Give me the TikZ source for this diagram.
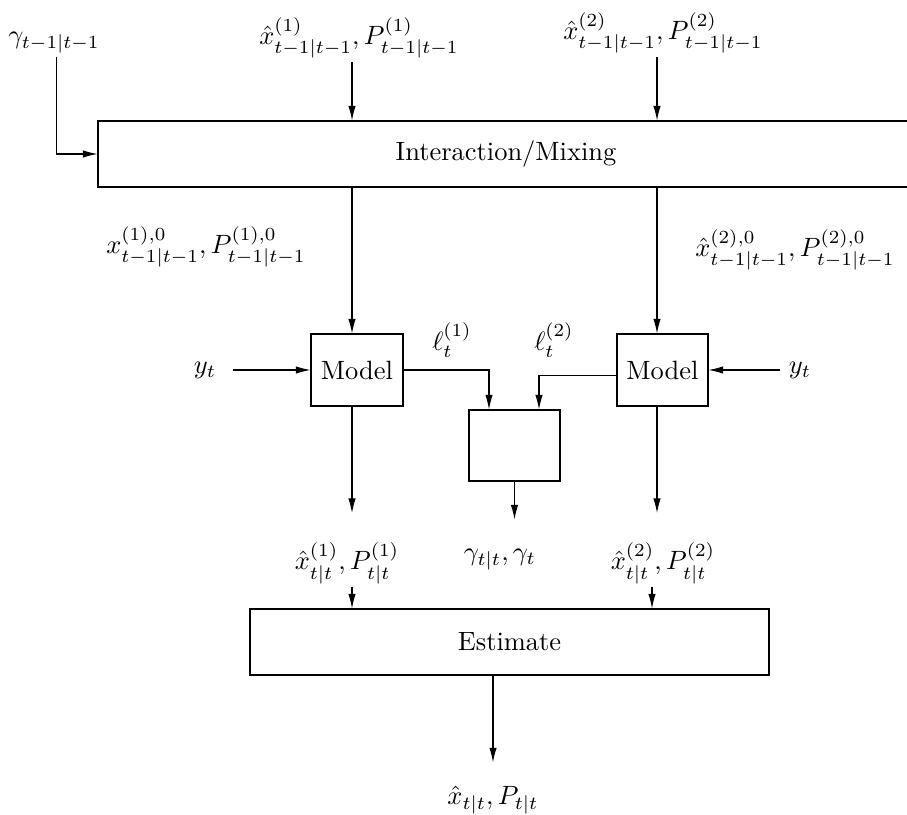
\documentclass[tikz,border=0pt]{standalone}
\usetikzlibrary{arrows.meta}
\newcommand{\un}{0.378pt}
\tikzset{
  arr/.style={-{Latex[length=5.5pt,width=2.8pt]}},
  blk/.style n args={2}{draw, minimum width=#1*\un, minimum height=#2*\un},
  lbl/.style={inner sep=1pt}
}
\begin{document}
\begin{tikzpicture}[x=\un,y=-\un]
\useasboundingbox (0,0) rectangle (907,815);
\clip (0,0) rectangle (907,815);
\coordinate (c1) at (352,0);
\coordinate (c2) at (657,0);
\coordinate (c3) at (652,0);

\node[lbl] (gam) at (54,43) {$\gamma_{t-1|t-1}$};
\node[lbl] (xin1) at (359,38) {$\hat{x}^{(1)}_{t-1|t-1}, P^{(1)}_{t-1|t-1}$};
\node[lbl] (xin2) at (663,33) {$\hat{x}^{(2)}_{t-1|t-1}, P^{(2)}_{t-1|t-1}$};
\node[blk={816}{66}] (mix) at (506,154) {Interaction/Mixing};

\node (xo1) at (206,247) {$x^{(1),0}_{t-1|t-1}, P^{(1),0}_{t-1|t-1}$};
\node (xo2) at (795,250) {$\hat{x}^{(2),0}_{t-1|t-1}, P^{(2),0}_{t-1|t-1}$};

\node[blk={92}{72}] (mdl1) at (357,370) {Model};
\node[blk={91}{72}] (mdl2) at (662.5,370) {Model};
\node[blk={91}{71}] (lik) at (514.5,445.5) {};
\node (y1) at (205,370) {$y_t$};
\node (y2) at (800,370) {$y_t$};
\node (l1) at (452,340) {$\ell^{(1)}_t$};
\node (l2) at (554,340) {$\ell^{(2)}_t$};

\node[lbl] (xe1) at (347,563) {$\hat{x}^{(1)}_{t|t}, P^{(1)}_{t|t}$};
\node[lbl] (gout) at (500,560) {$\gamma_{t|t}, \gamma_t$};
\node[lbl] (xe2) at (663,563) {$\hat{x}^{(2)}_{t|t}, P^{(2)}_{t|t}$};
\node[blk={519}{66}] (est) at (509.5,642) {Estimate};
\node[lbl] (xout) at (493,800) {$\hat{x}_{t|t}, P_{t|t}$};

\draw[arr] ([xshift=1pt]gam.south) |- (mix.west);
\draw[arr] (xin1.south -| c1) -- (mix.north -| c1);
\draw[arr] (xin2.south -| c2) -- (mix.north -| c2);
\draw[arr] (mix.south -| c1) -- (mdl1.north -| c1);
\draw[arr] (mix.south -| c2) -- (mdl2.north -| c2);

\draw[arr, shorten <=3pt] (y1.east) -- (mdl1.west);
\draw[arr] (y2.west) -- (mdl2.east);
\draw[arr] (mdl1.east) -| ([xshift=-9.64pt]lik.north);
\draw[arr] ([yshift=-2pt]mdl2.west) -| ([xshift=9.26pt]lik.north);

\draw[arr, shorten >=9.9pt] (mdl1.south -| c1) -- (xe1.north -| c1);
\draw[arr, shorten >=9.9pt] (mdl2.south -| c2) -- (xe2.north -| c2);
\draw[arr, shorten >=10.2pt] (lik.south) -- (lik.south |- gout.north);

\draw[arr] (xe1.south -| c1) -- (est.north -| c1);
\draw[arr] (xe2.south -| c3) -- (est.north -| c3);
\draw[arr, shorten >=7.8pt] (xout.north |- est.south) -- (xout.north);
\end{tikzpicture}
\end{document}
